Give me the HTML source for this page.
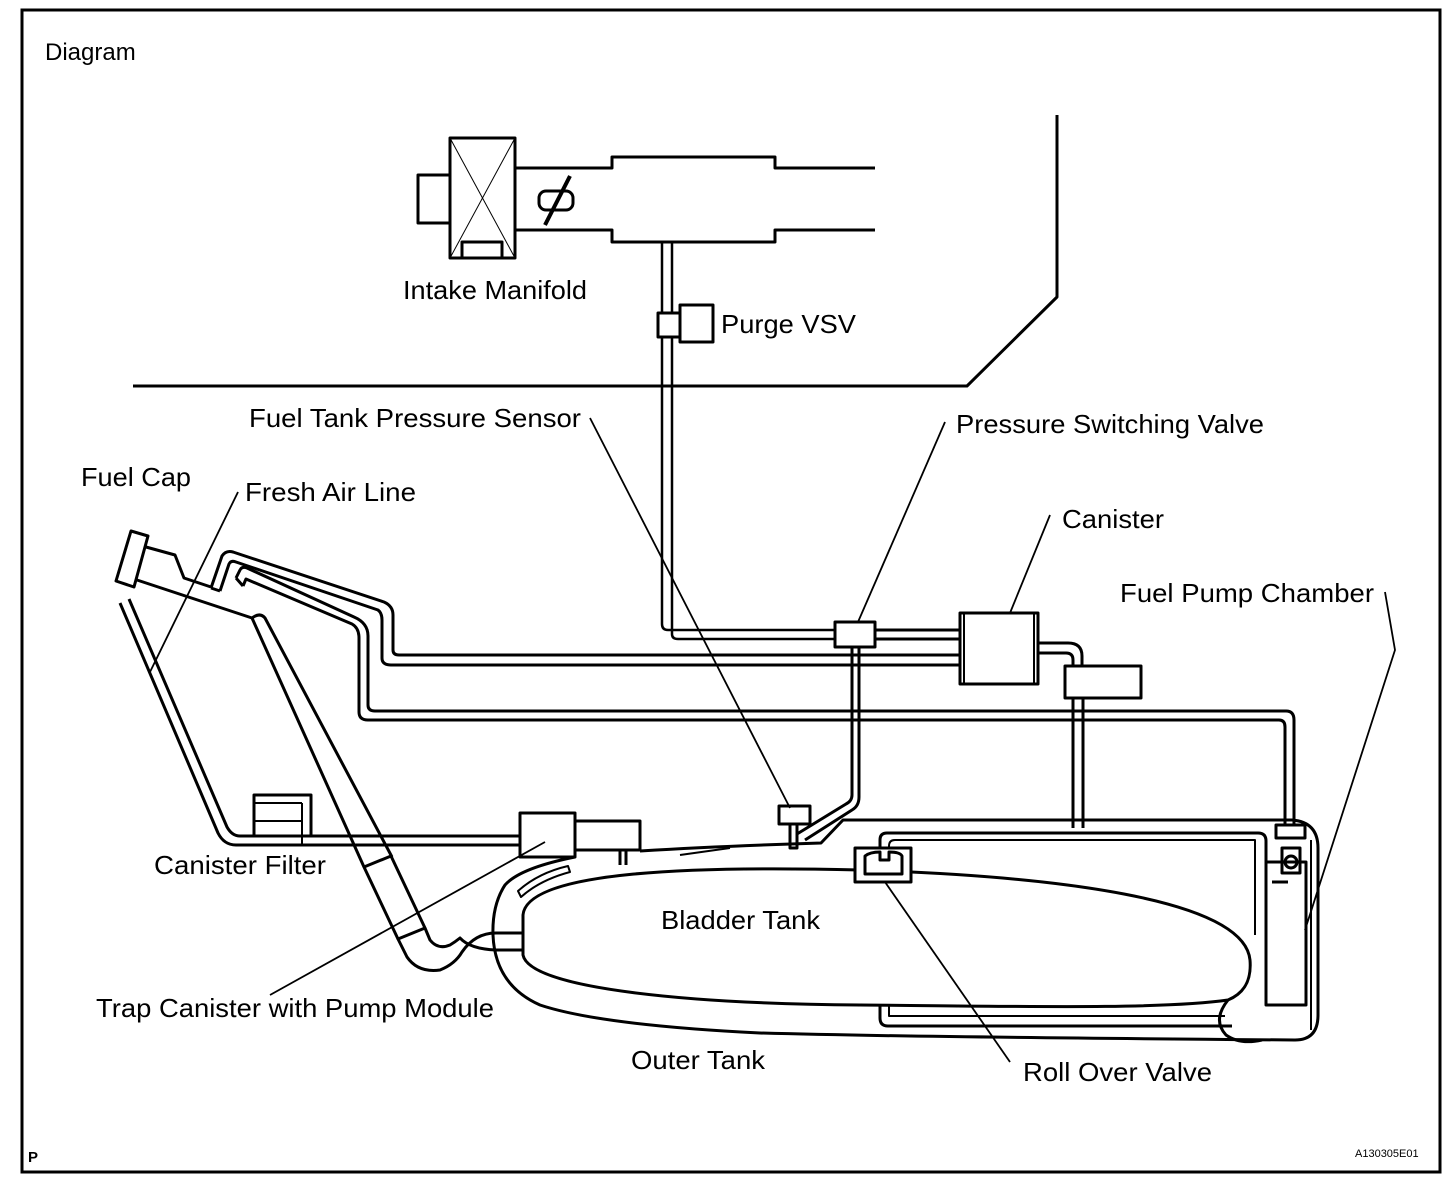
<!DOCTYPE html>
<html><head><meta charset="utf-8"><style>
html,body{margin:0;padding:0;background:#fff;}
svg{display:block;}
text{font-family:"Liberation Sans",Arial,sans-serif;fill:#000;}
</style></head><body>
<svg width="1456" height="1182" viewBox="0 0 1456 1182" xmlns="http://www.w3.org/2000/svg">
<rect x="0" y="0" width="1456" height="1182" fill="#fff"/>
<rect x="22" y="10" width="1418" height="1162" fill="none" stroke="#000" stroke-width="3"/>
<g fill="none" stroke="#000" stroke-width="3" stroke-linejoin="round">
<polyline points="133,386 967,386 1057,297 1057,115"/>
<rect x="418" y="175" width="32" height="48"/>
<rect x="450" y="138" width="65" height="120"/>
<line x1="450" y1="138" x2="515" y2="258" stroke-width="1"/>
<line x1="515" y1="138" x2="450" y2="258" stroke-width="1"/>
<rect x="462" y="242" width="40" height="16"/>
<polyline points="515,168 612,168 612,157 775,157 775,168 875,168"/>
<polyline points="515,230 612,230 612,242 775,242 775,230 875,230"/>
<rect x="539" y="191" width="34" height="19" rx="7"/>
<line x1="545" y1="225" x2="570" y2="176" stroke-width="4"/>
<path d="M662,242 L662,624 Q662,630 668,630 L835,630" stroke-width="2.5"/>
<path d="M672,242 L672,634 Q672,639 678,639 L835,639" stroke-width="2.5"/>
<rect x="658" y="313" width="22" height="24" fill="#fff"/>
<rect x="680" y="305" width="33" height="37" fill="#fff"/>
<line x1="875" y1="630" x2="960" y2="630"/>
<line x1="875" y1="639" x2="960" y2="639"/>
<rect x="835" y="622" width="40" height="25"/>
<rect x="960" y="613" width="78" height="71"/>
<line x1="964" y1="613" x2="964" y2="684" stroke-width="2"/>
<line x1="1034" y1="613" x2="1034" y2="684" stroke-width="2"/>
<path d="M1038,643 L1068,643 Q1082,643 1082,656 L1082,666"/>
<path d="M1038,653 L1066,653 Q1073,653 1073,660 L1073,666"/>
<rect x="1065" y="666" width="76" height="32"/>
<line x1="1073" y1="698" x2="1073" y2="828"/>
<line x1="1083" y1="698" x2="1083" y2="828"/>
<path d="M852,647 L852,795 Q852,801 846,804 L797,834"/>
<path d="M859,647 L859,797 Q859,806 852,810 L805,840"/>
<rect x="779" y="806" width="31" height="18"/>
<rect x="790" y="824" width="7" height="24"/>
<path d="M211,588 L222,556 Q226,550 233,552 L384,602 Q393,606 393,615 L393,650 Q393,655 399,655 L960,655"/>
<path d="M220,591 L229,564 Q231,560 236,562 L378,610 Q382,613 382,620 L382,658 Q382,665 391,665 L960,665"/>
<path d="M220,591 L211,588"/>
<path d="M236,578 L240,570 Q242,566 247,568 L354,617 Q368,623 368,636 L368,705 Q368,711 375,711 L1286,711 Q1294,711 1294,720 L1294,826"/>
<path d="M243,586 L246,579 L352,624 Q359,628 359,638 L359,712 Q359,720 368,720 L1279,720 Q1285,720 1285,727 L1285,826"/>
<path d="M236,578 L243,586"/>
<polygon points="116,581 131,531 148,536 134,587"/>
<polyline points="146,547 175,555 184,578 211,587"/>
<line x1="137" y1="580" x2="252" y2="618"/>
<path d="M252,618 L364,867"/>
<path d="M252,618 Q260,612 265,618 L392,857"/>
<polygon points="364,867 391,856 425,928 398,939" fill="#fff"/>
<path d="M398,939 L407,957 Q418,973 440,970 Q455,964 462,952 Q475,933 496,933 L523,933"/>
<path d="M425,928 L430,940 Q438,950 450,945 Q455,942 460,938 Q470,949 496,950 L523,950"/>
<path d="M120,603 L218,833 Q224,845 236,845 L520,845"/>
<path d="M129,599 L227,827 Q232,836 240,836 L254,836"/>
<rect x="254" y="795" width="57" height="41"/>
<line x1="254" y1="803" x2="302" y2="803" stroke-width="2"/>
<line x1="254" y1="821" x2="302" y2="821" stroke-width="2"/>
<line x1="302" y1="803" x2="302" y2="845" stroke-width="2"/>
<line x1="311" y1="836" x2="520" y2="836"/>
<rect x="520" y="813" width="55" height="44" fill="#fff"/>
<rect x="575" y="821" width="65" height="29"/>
<line x1="620" y1="850" x2="620" y2="865"/>
<line x1="626" y1="850" x2="626" y2="865"/>
<path d="M575,857 Q520,868 505,885 Q492,905 493,935 Q495,985 540,1005 Q600,1025 760,1033 Q900,1037 1295,1040 Q1318,1040 1318,1015 L1318,848 Q1318,822 1292,820 L843,820 L821,843 Q720,846 640,851"/>
<line x1="1311" y1="840" x2="1311" y2="1030" stroke-width="2"/>
<path d="M521,897 Q540,880 570,872 L568,866 Q538,873 518,891 Z" stroke-width="2"/>
<path d="M680,855 L730,848" stroke-width="2"/>
<path d="M523,915 C527,870 700,866 860,870 C1050,876 1244,898 1250,960 C1252,985 1240,995 1228,1000 C1160,1010 1000,1006 860,1005 C700,1004 530,990 523,955 Z"/>
<path d="M1228,1000 Q1212,1020 1226,1035 Q1240,1045 1262,1040"/>
<path d="M880,860 L880,840 Q880,833 887,833 L1258,833 Q1266,833 1266,841 L1266,862"/>
<path d="M889,860 L889,846 Q889,840 895,840 L1255,840 L1255,935" stroke-width="2"/>
<path d="M880,1005 L880,1018 Q880,1026 888,1026 L1232,1026"/>
<path d="M889,1005 L889,1016 L1225,1016" stroke-width="2"/>
<rect x="855" y="848" width="56" height="34" fill="#fff"/>
<path d="M865,874 L865,856 Q870,852 880,852 L880,860 L889,860 L889,852 Q900,852 902,856 L902,874 Z"/>
<rect x="1266" y="862" width="40" height="143"/>
<rect x="1276" y="825" width="29" height="13"/>
<rect x="1282" y="848" width="18" height="25"/>
<circle cx="1291" cy="862" r="6"/>
<line x1="1272" y1="882" x2="1288" y2="882"/>
<g stroke-width="1.8">
<line x1="590" y1="418" x2="790" y2="808"/>
<line x1="945" y1="422" x2="858" y2="622"/>
<line x1="1050" y1="515" x2="1010" y2="613"/>
<polyline points="1385,592 1395,650 1305,930"/>
<line x1="238" y1="492" x2="150" y2="672"/>
<line x1="270" y1="995" x2="545" y2="842"/>
<line x1="1010" y1="1062" x2="885" y2="882"/>
</g>
</g>
<g font-size="26">
<text x="45" y="60" font-size="24">Diagram</text>
<text x="403" y="299" textLength="184" lengthAdjust="spacingAndGlyphs">Intake Manifold</text>
<text x="721" y="333" textLength="135" lengthAdjust="spacingAndGlyphs">Purge VSV</text>
<text x="249" y="427" textLength="332" lengthAdjust="spacingAndGlyphs">Fuel Tank Pressure Sensor</text>
<text x="956" y="433" textLength="308" lengthAdjust="spacingAndGlyphs">Pressure Switching Valve</text>
<text x="81" y="486" textLength="110" lengthAdjust="spacingAndGlyphs">Fuel Cap</text>
<text x="245" y="501" textLength="171" lengthAdjust="spacingAndGlyphs">Fresh Air Line</text>
<text x="1062" y="528" textLength="102" lengthAdjust="spacingAndGlyphs">Canister</text>
<text x="1120" y="602" textLength="254" lengthAdjust="spacingAndGlyphs">Fuel Pump Chamber</text>
<text x="154" y="874" textLength="172" lengthAdjust="spacingAndGlyphs">Canister Filter</text>
<text x="661" y="929" textLength="159" lengthAdjust="spacingAndGlyphs">Bladder Tank</text>
<text x="96" y="1017" textLength="398" lengthAdjust="spacingAndGlyphs">Trap Canister with Pump Module</text>
<text x="631" y="1069" textLength="134" lengthAdjust="spacingAndGlyphs">Outer Tank</text>
<text x="1023" y="1081" textLength="189" lengthAdjust="spacingAndGlyphs">Roll Over Valve</text>
</g>
<text x="28" y="1162" font-size="15" font-weight="bold">P</text>
<text x="1355" y="1157" font-size="11">A130305E01</text>
</svg>
</body></html>
